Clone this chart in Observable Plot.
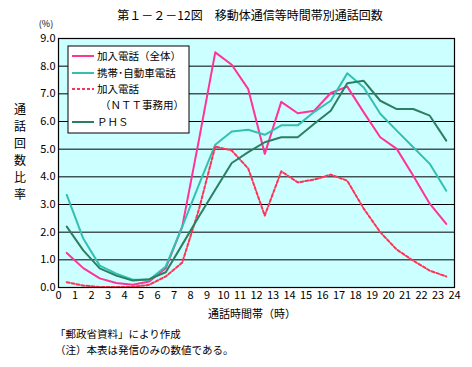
<!DOCTYPE html>
<html><head><meta charset="utf-8">
<script src="https://cdn.jsdelivr.net/npm/d3@7"></script>
<script src="https://cdn.jsdelivr.net/npm/@observablehq/plot@0.6"></script>
<style>body{margin:0;background:#fff} svg{display:block}</style>
</head><body><div id="chart"></div>
<script>
const hours = [0,1,2,3,4,5,6,7,8,9,10,11,12,13,14,15,16,17,18,19,20,21,22,23];
const kanyuAll = [1.25,0.7,0.33,0.16,0.1,0.22,0.7,2.2,5.3,8.5,8.05,7.17,4.83,6.71,6.3,6.39,7.03,7.26,6.33,5.43,5.01,4.04,3.03,2.3];
const keitai   = [3.35,1.77,0.79,0.5,0.28,0.28,0.76,2.2,3.7,5.16,5.64,5.7,5.52,5.86,5.86,6.35,6.75,7.74,7.23,6.28,5.67,5.07,4.47,3.5];
const ntt      = [0.19,0.07,0.02,0.02,0.02,0.1,0.4,0.9,2.8,5.1,4.95,4.3,2.6,4.2,3.8,3.9,4.08,3.86,2.85,2.0,1.37,0.97,0.61,0.4];
const phs      = [2.2,1.34,0.69,0.43,0.25,0.3,0.55,1.55,2.56,3.53,4.5,4.89,5.25,5.43,5.43,5.92,6.39,7.38,7.47,6.75,6.45,6.45,6.21,5.31];
const xTicks = [0,1,2,3,4,5,6,7,8,9,10,11,12,13,14,15,16,17,18,19,20,21,22,23,24];
const yTicks = [0,1,2,3,4,5,6,7,8,9];
const seriesNames = ["加入電話（全体）","携帯･自動車電話","加入電話","ＰＨＳ"];
const seriesValues = [kanyuAll, keitai, ntt, phs];
const seriesColors = ["#ff3399","#33c0b0","#ff3355","#2a8060"];
const seriesDash = [null, null, "3,2", null];

const rows = seriesNames.flatMap((n, si) => hours.map((h, i) => ({series: n, hour: h + 0.5, value: seriesValues[si][i]})));
const font = "'Noto Sans CJK JP', 'DejaVu Sans', sans-serif";

const plot = Plot.plot({
  width: 472, height: 367,
  marginLeft: 58, marginRight: 18, marginTop: 38, marginBottom: 80,
  style: {fontFamily: font, fontSize: "11px", background: "white", color: "black"},
  x: {domain: [0, 24], ticks: xTicks, tickSize: 0, tickPadding: 4, tickFormat: d => String(d), label: null},
  y: {domain: [0, 9], ticks: yTicks, tickSize: 0, tickPadding: 3, tickFormat: d => d.toFixed(1), label: null},
  marks: [
    Plot.frame({fill: "#ccffff"}),
    Plot.ruleY(yTicks, {stroke: "black", strokeWidth: 1}),
    ...seriesNames.map((n, si) => Plot.line(rows.filter(r => r.series === n), {
      x: "hour", y: "value", stroke: seriesColors[si], strokeWidth: 2,
      strokeDasharray: seriesDash[si] || undefined
    })),
    Plot.frame({stroke: "black", strokeWidth: 1.2})
  ]
});
document.getElementById("chart").appendChild(plot);

const svg = d3.select(plot);
const addText = (x, y, t, anchor = "start", size = 11) => svg.append("text")
  .attr("x", x).attr("y", y).attr("text-anchor", anchor)
  .attr("font-family", font).attr("font-size", size).attr("fill", "black").text(t);

addText(250, 20, "第１－２－12図　移動体通信等時間帯別通話回数", "middle", 12);
addText(46, 27, "(%)", "middle", 9);
const ylabel = "通話回数比率";
[...ylabel].forEach((c, i) => addText(20, 114 + i * 17, c, "middle", 12));
addText(252, 318, "通話時間帯（時）", "middle", 11);
addText(55, 338, "「郵政省資料」により作成", "start", 10.5);
addText(55, 354, "（注）本表は発信のみの数値である。", "start", 10.5);

// legend
const lg = svg.append("g");
lg.append("rect").attr("x", 68).attr("y", 46).attr("width", 121).attr("height", 87)
  .attr("fill", "white").attr("stroke", "black").attr("stroke-width", 1);
const legendRows = [56, 73, 89, 122];
seriesNames.forEach((n, si) => {
  lg.append("line").attr("x1", 72).attr("x2", 94).attr("y1", legendRows[si]).attr("y2", legendRows[si])
    .attr("stroke", seriesColors[si]).attr("stroke-width", 2)
    .attr("stroke-dasharray", seriesDash[si]);
  addText(97, legendRows[si] + 4, n, "start", 10.5);
});
addText(100, 109, "（ＮＴＴ事務用）", "start", 10.5);
</script></body></html>
